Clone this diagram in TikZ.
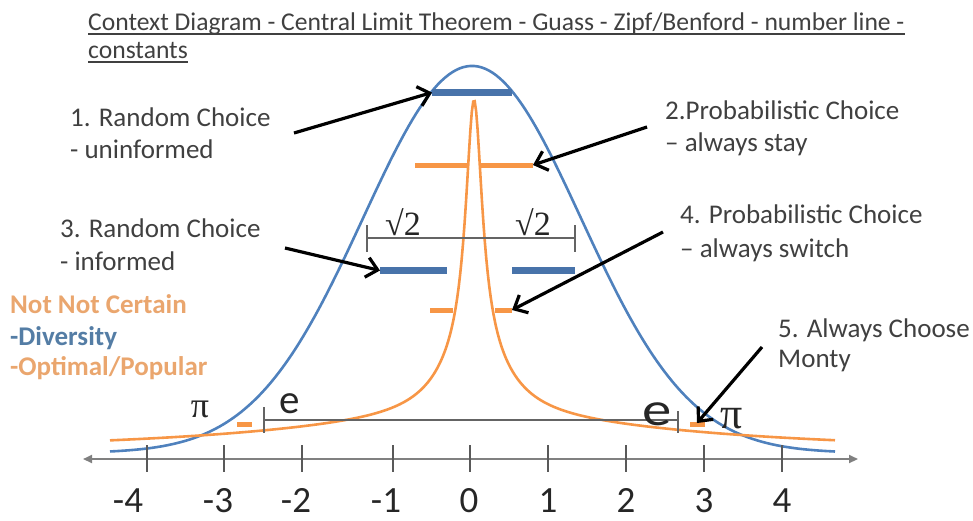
\documentclass[tikz,border=0pt]{standalone}
\usepackage{fontspec}
\setmainfont{Carlito}
\newfontfamily\serif{Liberation Serif}
\usetikzlibrary{arrows.meta}
\definecolor{bluec}{RGB}{79,129,189}
\definecolor{bluebar}{RGB}{72,115,170}
\definecolor{orangec}{RGB}{247,150,70}
\definecolor{orangetxt}{RGB}{234,166,110}
\definecolor{bluetxt}{RGB}{84,125,165}
\definecolor{textgray}{RGB}{64,64,64}
\definecolor{brgray}{RGB}{100,100,100}
\definecolor{axgray}{RGB}{128,128,128}
\tikzset{
  lbl/.style={font=\fontsize{27}{33}\selectfont, text=textgray, inner sep=0pt, anchor=base west},
  leg/.style={font=\fontsize{27}{33}\selectfont\bfseries, inner sep=0pt, anchor=base west},
  ttl/.style={font=\fontsize{25.6}{30}\selectfont, text=textgray, inner sep=0pt, anchor=base west},
  num/.style={font=\fontsize{37}{42}\selectfont, text=black!85, inner sep=0pt, anchor=base},
  const/.style={inner sep=0pt, anchor=base, text=black!85},
  curve/.style={line width=2.6pt},
  bar/.style={line width=6.5pt},
  obar/.style={line width=5pt, orangec},
  pointer/.style={line width=3.2pt, black, -{Straight Barb[length=11pt,width=20pt]}},
  bracket/.style={line width=2pt, brgray},
  tick/.style={line width=2pt, black!65}
}
\begin{document}
\begin{tikzpicture}[x=1pt,y=-1pt]
\useasboundingbox (0,0) rectangle (973,520);
% title
\node[ttl] (t1) at (88,30) {Context Diagram - Central Limit Theorem - Guass - Zipf/Benford - number line -};
\node[ttl] (t2) at (88,58) {constants};
\draw[textgray, line width=1.4pt] ([yshift=-4pt]t1.base west) -- ([yshift=-4pt]t1.base east);
\draw[textgray, line width=1.4pt] ([yshift=-4pt]t2.base west) -- ([yshift=-4pt]t2.base east);
% curves
\draw[curve, bluec] plot[domain=110:835, samples=200] (\x, {453-387*exp(-0.5*((\x-472)/109)^2)});
\draw[curve, orangec] plot[domain=110:835, samples=500] (\x, {452-254/(1+((\x-474)/10)^2)-68/(1+((\x-474)/40)^2)-30/(1+((\x-474)/270)^2)});
% axis
\coordinate (axL) at (83,459);
\coordinate (axR) at (858,459);
\draw[line width=2pt, axgray, {Triangle[length=9pt,width=8pt]}-{Triangle[length=9pt,width=8pt]}] (axL) -- (axR);
\foreach \p/\l/\c in {147/-4/128, 224/-3/218, 302/-2/296, 393/-1/386, 470/0/469, 548/1/548, 626/2/626, 704/3/704, 782/4/782}{
  \draw[tick] (\p,445) -- (\p,472);
  \node[num] (n\p) at (\c,512) {\l};
}
% brackets
\draw[bracket] (367,238) -- (575,238);
\draw[bracket] (367,225) -- (367,252);
\draw[bracket] (575,225) -- (575,252);
\node[const, font=\serif\fontsize{34}{36}\selectfont] (r1) at (403,235) {√2};
\node[const, font=\serif\fontsize{34}{36}\selectfont] (r2) at (533,235) {√2};
\draw[bracket] (264,420) -- (678,420);
\draw[bracket] (264,407) -- (264,433);
\draw[bracket] (678,411) -- (678,433);
\node[const, font=\fontsize{41}{44}\selectfont] (e1) at (290,413) {e};
\node[const, font=\fontsize{47}{50}\selectfont, xscale=1.25] (e2) at (657,425) {e};
\node[const, font=\serif\fontsize{36}{38}\selectfont] (p1) at (200,417) {π};
\node[const, font=\serif\fontsize{44}{46}\selectfont] (p2) at (732,428) {π};
% bars
\coordinate (b1L) at (432,92.5); \coordinate (b1R) at (512,92.5);
\draw[bar, bluebar] (b1L) -- (b1R);
\coordinate (b2L) at (415,165); \coordinate (b2R) at (533,165);
\draw[obar] (b2L) -- (468,165);
\draw[obar] (480,165) -- (b2R);
\coordinate (b3L) at (380,270.5); \coordinate (b3R) at (575,270.5);
\draw[bar, bluebar] (b3L) -- (447,270.5);
\draw[bar, bluebar] (512,270.5) -- (b3R);
\coordinate (b4L) at (430,310); \coordinate (b4R) at (512,310);
\draw[obar] (b4L) -- (453,310);
\draw[obar] (495,310) -- (b4R);
\coordinate (b5L) at (237,424); \coordinate (b5R) at (705,424);
\draw[obar] (b5L) -- (252,424);
\draw[obar] (690,424) -- (b5R);
% labels
\node[lbl] (l1a) at (70,126) {1. Random Choice};
\node[lbl] (l1b) at (70,158) {- uninformed};
\node[lbl] (l3a) at (60,237) {3. Random Choice};
\node[lbl] (l3b) at (60,270) {- informed};
\node[lbl] (l2a) at (665,119) {2.Probabilistic Choice};
\node[lbl] (l2b) at (665,151) {– always stay};
\node[lbl] (l4a) at (680,223) {4. Probabilistic Choice};
\node[lbl] (l4b) at (680,257) {– always switch};
\node[lbl] (l5a) at (778,337) {5. Always Choose};
\node[lbl] (l5b) at (778,367) {Monty};
\node[leg, text=orangetxt] (g1) at (10,313) {Not Not Certain};
\node[leg, text=bluetxt] (g2) at (10,345) {-Diversity};
\node[leg, text=orangetxt] (g3) at (10,375) {-Optimal/Popular};
% pointers
\coordinate (a1) at (294,133);
\coordinate (a2) at (647,127);
\coordinate (a3) at (285,248);
\coordinate (a4) at (663,232);
\coordinate (a5) at (762,347);
\draw[pointer] (a1) -- (b1L);
\draw[pointer] (a2) -- (b2R);
\draw[pointer] (a3) -- (b3L);
\draw[pointer] (a4) -- (b4R);
\draw[pointer] (a5) -- (697,423);
\end{tikzpicture}
\end{document}
